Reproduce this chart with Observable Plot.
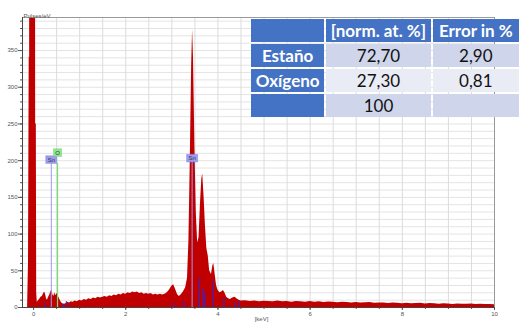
<!DOCTYPE html>
<html><head><meta charset="utf-8">
<script src="https://cdn.jsdelivr.net/npm/d3@7"></script>
<script src="https://cdn.jsdelivr.net/npm/@observablehq/plot@0.6"></script>
<style>
html,body{margin:0;padding:0;background:#fff;width:521px;height:322px;overflow:hidden;}
#wrap{position:relative;width:521px;height:322px;overflow:hidden;}
#wrap svg{position:absolute;left:0;top:0;}
#tbl{position:absolute;left:249px;top:17px;border-collapse:separate;border-spacing:2px;font-family:Lato,"Open Sans",sans-serif;font-size:17px;table-layout:fixed;}
#tbl td{height:23px;padding:0;text-align:center;vertical-align:middle;white-space:nowrap;overflow:hidden;line-height:23px;}
#tbl td.h{background:#4472c4;color:#fff;font-weight:bold;}
#tbl td.a{background:#cfd5ea;color:#111;}
#tbl td.b{background:#e9ebf5;color:#111;}
</style>
</head><body>
<div id="wrap"></div>
<script>
// ---- spectrum data (keV, pulses/eV) ----
const keV = [-0.24,-0.13,-0.11,-0.095,-0.085,-0.08,0.04,0.045,0.06,0.068,0.08,0.10,0.13,0.16,0.19,0.22,0.24,0.26,0.28,0.30,0.32,0.35,0.38,0.40,0.42,0.44,0.46,0.48,0.50,0.52,0.54,0.57,0.60,0.63,0.66,0.70,0.74,0.78,0.82,0.86,0.90,0.95,1.00,1.05,1.10,1.15,1.20,1.25,1.30,1.35,1.40,1.45,1.50,1.55,1.60,1.65,1.70,1.75,1.80,1.85,1.90,1.95,2.00,2.05,2.10,2.15,2.20,2.25,2.30,2.35,2.40,2.45,2.50,2.55,2.60,2.65,2.70,2.75,2.80,2.85,2.90,2.95,3.00,3.04,3.08,3.12,3.16,3.20,3.25,3.30,3.34,3.37,3.40,3.43,3.45,3.47,3.50,3.53,3.56,3.59,3.62,3.65,3.67,3.70,3.73,3.76,3.79,3.82,3.86,3.89,3.91,3.94,3.97,4.00,4.04,4.08,4.12,4.15,4.19,4.23,4.27,4.32,4.37,4.41,4.46,4.50,4.6,4.7,4.8,4.9,5.0,5.1,5.2,5.3,5.4,5.5,5.6,5.7,5.8,5.9,6.0,6.1,6.2,6.3,6.4,6.5,6.6,6.7,6.8,6.9,7.0,7.1,7.2,7.3,7.4,7.5,7.6,7.7,7.8,7.9,8.0,8.1,8.2,8.3,8.4,8.5,8.6,8.7,8.8,8.9,9.0,9.1,9.2,9.3,9.4,9.5,9.6,9.7,9.8,9.9,10.0];
const pulses = [0,0,60,341,341,1000,1000,250,250,20,7,9,11,14,15,19,21,18,12,10,13,17,22,23,17,15,20,16,18,19,15,11,7,5,4,5,7,6,8,7,9,8,10,9,11,10,12,11,13,12,14,13,14,15,14,16,15,17,16,18,17,19,18,20,19,21,20,21,19,20,18,19,18,19,17,18,17,18,17,18,20,24,29,31,25,18,15,17,21,27,40,90,200,330,378,340,220,130,88,95,140,175,182,150,110,80,70,50,45,57,60,45,30,24,20,21,23,20,14,12,11,13,14,12,10,9,9.2,8.1,8.9,7.8,8.6,8.2,7.7,8.8,7.9,8.3,7.2,8.1,7.9,7.1,8.2,7.0,7.8,6.9,7.4,7.1,6.4,7.2,6.8,6.2,6.9,6.1,6.5,6.8,5.9,6.3,6.0,5.4,6.1,5.8,5.2,5.9,5.1,5.4,5.8,4.9,5.3,5.0,4.4,5.1,4.8,4.2,4.9,4.3,4.5,4.9,4.1,4.4,4.0,4.2,3.9];

// element marker lines (keV, height)
const lineKeV = [0.24,0.64,0.71,3.04,3.26,3.60,3.67,3.71,3.90,4.13,4.37,4.46];
const lineTop = [6,5,8,6,8,40,25,20,35,12,6,8];

// labelled element lines
const labelEl  = ["Sn","O","Sn"];
const labelKeV = [0.385,0.52,3.44];
const labelTop = [196,196,198];

// axis ticks
const xMajor = [0,2,4,6,8,10];
const xMinor = [0,0.5,1,1.5,2,2.5,3,3.5,4,4.5,5,5.5,6,6.5,7,7.5,8,8.5,9,9.5,10];
const yMajor = [0,50,100,150,200,250,300,350];

// table
const tblHeader = ["", "[norm. at. %]", "Error in %"];
const tblElement = ["Estaño","Oxígeno",""];
const tblNorm = ["72,70","27,30","100"];
const tblError = ["2,90","0,81",""];

const spectrum = keV.map((k,i)=>({k, c: pulses[i]}));
const markers = lineKeV.map((k,i)=>({k, h: lineTop[i]}));
const labels = labelEl.map((e,i)=>({e, k: labelKeV[i], h: labelTop[i]}));
const yMinor = d3.range(0, 395, 10);
const noLabel = () => "";

const boxSym = {draw(ctx){ ctx.moveTo(-5.5,-3.8); ctx.lineTo(5.5,-3.8); ctx.lineTo(5.5,3.8); ctx.lineTo(-5.5,3.8); ctx.closePath(); }};
const boxSymO = {draw(ctx){ ctx.moveTo(-4,-3.8); ctx.lineTo(4,-3.8); ctx.lineTo(4,3.8); ctx.lineTo(-4,3.8); ctx.closePath(); }};

const snLabels = labels.filter(d=>d.e==="Sn");
const oLabels = labels.filter(d=>d.e==="O");

const chart = Plot.plot({
  width: 521, height: 322,
  marginLeft: 22, marginRight: 27, marginTop: 17, marginBottom: 15,
  style: {fontFamily: "Liberation Sans, Arial, sans-serif", background: "transparent"},
  x: {domain: [-0.24, 10]},
  y: {domain: [0, 395]},
  marks: [
    Plot.gridY(yMinor, {stroke: "#e4e4e4", strokeOpacity: 1}),
    Plot.gridX(xMinor, {stroke: "#dcdcdc", strokeOpacity: 1}),
    Plot.areaY(spectrum, {x: "k", y: "c", fill: "#c00000", clip: true}),
    Plot.ruleX(markers, {x: "k", y1: 0, y2: "h", stroke: "#2828e0", strokeWidth: 1}),
    Plot.ruleX(snLabels, {x: "k", y1: 0, y2: "h", stroke: "#9a9af0", strokeWidth: 1}),
    Plot.ruleX(oLabels, {x: "k", y1: 0, y2: "h", stroke: "#70e070", strokeWidth: 1.2}),
    Plot.dot(snLabels, {x: "k", y: "h", dy: -4, symbol: boxSym, fill: "#9c9cf2", stroke: "#8080e0", strokeWidth: 0.5}),
    Plot.text(snLabels, {x: "k", y: "h", dy: -4, text: "e", fontSize: 6, fill: "#333"}),
    Plot.dot(oLabels, {x: "k", y: "h", dy: -11, symbol: boxSymO, fill: "#8ee88e", stroke: "#70d070", strokeWidth: 0.5}),
    Plot.text(oLabels, {x: "k", y: "h", dy: -11, text: "e", fontSize: 6, fill: "#333"}),
    Plot.frame({stroke: "#9a9a9a"}),
    Plot.axisY({ticks: yMinor, tickSize: 2, tickFormat: noLabel, label: null, stroke: "#555"}),
    Plot.axisY({ticks: yMajor, tickSize: 4, tickPadding: 1, fontSize: 6, label: null, color: "#555"}),
    Plot.axisX({ticks: xMinor, tickSize: 2, tickFormat: noLabel, label: null, stroke: "#555"}),
    Plot.axisX({ticks: xMajor, tickSize: 3, tickPadding: 1, fontSize: 6, label: null, color: "#555"}),
    Plot.ruleX([-0.24], {stroke: "#444"}),
    Plot.ruleY([0], {stroke: "#444"}),
    Plot.text(["Pulses/eV"], {frameAnchor: "top-left", dx: 1, dy: -4, fontSize: 6, textAnchor: "start", fill: "#555"}),
    Plot.text(["[keV]"], {frameAnchor: "bottom", dx: 3, dy: 13, fontSize: 6, fill: "#555"})
  ]
});
document.getElementById("wrap").appendChild(chart);

// table overlay
const tbl = document.createElement("table");
tbl.id = "tbl";
const widths = [76, 107, 90];
const addRow = (cells, classes) => {
  const tr = document.createElement("tr");
  cells.forEach((t,i)=>{
    const td = document.createElement("td");
    td.textContent = t;
    td.className = classes[i];
    td.style.width = widths[i] + "px";
    td.style.maxWidth = widths[i] + "px";
    tr.appendChild(td);
  });
  tbl.appendChild(tr);
};
addRow(tblHeader, ["h","h","h"]);
tblElement.forEach((e,i)=>{
  const cls = i % 2 === 0 ? "a" : "b";
  addRow([e, tblNorm[i], tblError[i]], ["h", cls, cls]);
});
document.getElementById("wrap").appendChild(tbl);
</script>
</body></html>
